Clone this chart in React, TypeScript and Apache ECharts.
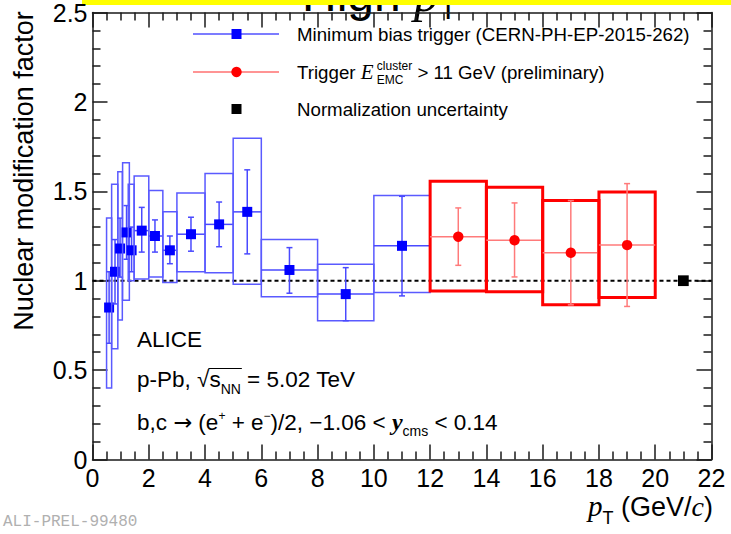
import React, { useEffect, useRef } from "react";
import * as echarts from "echarts";

// ---------------- data ----------------
// Minimum bias trigger (CERN-PH-EP-2015-262)
const mbPt = [0.59, 0.8, 0.98, 1.21, 1.39, 1.75, 2.22, 2.75, 3.5, 4.5, 5.5, 7, 9, 11];
const mbPtLow = [0.5, 0.68, 0.9, 1.07, 1.27, 1.48, 2, 2.5, 3, 4, 5, 6, 8, 10];
const mbPtHigh = [0.68, 0.9, 1.06, 1.31, 1.48, 2, 2.5, 3, 4, 5, 6, 8, 10, 12];
const mbValue = [0.85, 1.05, 1.18, 1.27, 1.17, 1.28, 1.25, 1.17, 1.26, 1.315, 1.385, 1.06, 0.925, 1.195];
const mbStatLow = [0.65, 0.87, 1.02, 1.12, 1.05, 1.16, 1.16, 1.095, 1.165, 1.19, 1.15, 0.93, 0.776, 0.915];
const mbStatHigh = [1.05, 1.23, 1.35, 1.42, 1.3, 1.41, 1.34, 1.25, 1.355, 1.44, 1.62, 1.185, 1.073, 1.472];
const mbSystLow = [0.4, 0.62, 0.78, 0.89, 1.0, 1.01, 1.02, 0.99, 1.05, 1.045, 0.98, 0.91, 0.776, 0.934];
const mbSystHigh = [1.35, 1.54, 1.61, 1.66, 1.54, 1.585, 1.505, 1.385, 1.49, 1.6, 1.797, 1.23, 1.092, 1.476];

// Trigger E_EMC^cluster > 11 GeV (preliminary)
const emcPt = [13, 15, 17, 19];
const emcPtLow = [12, 14, 16, 18];
const emcPtHigh = [14, 16, 18, 20];
const emcValue = [1.246, 1.226, 1.156, 1.199];
const emcStatLow = [1.086, 1.021, 0.865, 0.856];
const emcStatHigh = [1.407, 1.435, 1.448, 1.543];
const emcSystLow = [0.943, 0.938, 0.865, 0.906];
const emcSystHigh = [1.556, 1.522, 1.448, 1.496];

// Normalization uncertainty
const normPt = [21];
const normValue = [1];
const normUnc = [0.03];

// Reference line
const unityValue = 1;

// Axes
const xMin = 0, xMax = 22, xInterval = 2;
const yMin = 0, yMax = 2.5, yInterval = 0.5;

// ---------------- helpers ----------------
const SANS = "Liberation Sans";
const SERIF = "Liberation Serif";
const MONO = "Liberation Mono";

type Run = { t: string; fs: number; fam?: string; it?: boolean; bold?: boolean; dy?: number; stack?: boolean; color?: string };

let mctx: CanvasRenderingContext2D | null = null;
function textWidth(t: string, fs: number, fam: string, it?: boolean, bold?: boolean) {
  if (!mctx) mctx = document.createElement("canvas").getContext("2d");
  if (!mctx) return t.length * fs * 0.5;
  mctx.font = `${it ? "italic " : ""}${bold ? "bold " : ""}${fs}px "${fam}"`;
  return mctx.measureText(t).width;
}

function layoutRuns(runs: Run[], x0: number, baseline: number, anchor: "left" | "right" = "left", color = "#000") {
  let cx = 0;
  let prevStart = 0;
  const placed: { r: Run; x: number; w: number }[] = [];
  for (const r of runs) {
    const w = textWidth(r.t, r.fs, r.fam || SANS, r.it, r.bold);
    const start = r.stack ? prevStart : cx;
    placed.push({ r, x: start, w });
    const end = start + w;
    cx = r.stack ? Math.max(cx, end) : end;
    prevStart = start;
  }
  const off = anchor === "right" ? x0 - cx : x0;
  const els = placed.map((p) => ({
    type: "text",
    silent: true,
    x: off + p.x,
    y: baseline + (p.r.dy || 0) - 0.35 * p.r.fs,
    style: {
      text: p.r.t,
      fontSize: p.r.fs,
      fontFamily: p.r.fam || SANS,
      fontStyle: p.r.it ? "italic" : "normal",
      fontWeight: p.r.bold ? "bold" : "normal",
      fill: p.r.color || color,
      align: "left",
      verticalAlign: "middle",
    },
  }));
  const xs = placed.map((p) => off + p.x);
  const ws = placed.map((p) => p.w);
  return { els, xs, ws, total: cx };
}

function errorSeries(
  name: string,
  pt: number[], lo: number[], hi: number[], val: number[],
  sLo: number[], sHi: number[], yLo: number[], yHi: number[],
  o: { boxColor: string; boxWidth: number; barColor: string; marker: "square" | "circle"; markerColor: string; z: number }
) {
  const data = pt.map((p, i) => [p, val[i], lo[i], hi[i], sLo[i], sHi[i], yLo[i], yHi[i]]);
  return {
    type: "custom",
    name,
    data,
    z: o.z,
    encode: { x: 0, y: 1 },
    renderItem: (_params: any, api: any) => {
      const x = api.value(0), y = api.value(1);
      const xl = api.value(2), xh = api.value(3);
      const sl = api.value(4), sh = api.value(5);
      const yl = api.value(6), yh = api.value(7);
      const tl = api.coord([xl, yh]);
      const br = api.coord([xh, yl]);
      const c = api.coord([x, y]);
      const cl = api.coord([xl, y]);
      const ch = api.coord([xh, y]);
      const s1 = api.coord([x, sl]);
      const s2 = api.coord([x, sh]);
      const cap = 3;
      const ls = { stroke: o.barColor, lineWidth: 1.5 };
      const children: any[] = [
        { type: "rect", shape: { x: tl[0], y: tl[1], width: br[0] - tl[0], height: br[1] - tl[1] }, style: { fill: "none", stroke: o.boxColor, lineWidth: o.boxWidth } },
        { type: "line", shape: { x1: cl[0], y1: cl[1], x2: ch[0], y2: ch[1] }, style: ls },
        { type: "line", shape: { x1: s1[0], y1: s1[1], x2: s2[0], y2: s2[1] }, style: ls },
        { type: "line", shape: { x1: s1[0] - cap, y1: s1[1], x2: s1[0] + cap, y2: s1[1] }, style: ls },
        { type: "line", shape: { x1: s2[0] - cap, y1: s2[1], x2: s2[0] + cap, y2: s2[1] }, style: ls },
      ];
      if (o.marker === "square") {
        children.push({ type: "rect", shape: { x: c[0] - 5, y: c[1] - 5, width: 10, height: 10 }, style: { fill: o.markerColor } });
      } else {
        children.push({ type: "circle", shape: { cx: c[0], cy: c[1], r: 5.2 }, style: { fill: o.markerColor } });
      }
      return { type: "group", children };
    },
  };
}

const AXIS_COLOR = "#1a1a1a";

function makeXAxis(position: "bottom" | "top", labels: boolean) {
  return {
    type: "value",
    min: xMin,
    max: xMax,
    interval: xInterval,
    position,
    axisLine: { show: true, onZero: false, lineStyle: { color: AXIS_COLOR, width: 1.5 } },
    axisTick: { show: true, inside: true, length: 15, lineStyle: { color: AXIS_COLOR, width: 1.5 } },
    minorTick: { show: true, splitNumber: 4, length: 8, lineStyle: { color: AXIS_COLOR, width: 1.5 } },
    splitLine: { show: false },
    axisLabel: { show: labels, fontSize: 25, color: "#000", fontFamily: SANS, margin: 6 },
  };
}
function makeYAxis(position: "left" | "right", labels: boolean) {
  return {
    type: "value",
    min: yMin,
    max: yMax,
    interval: yInterval,
    position,
    axisLine: { show: true, onZero: false, lineStyle: { color: AXIS_COLOR, width: 1.5 } },
    axisTick: { show: true, inside: true, length: 15, lineStyle: { color: AXIS_COLOR, width: 1.5 } },
    minorTick: { show: true, splitNumber: 5, length: 8, lineStyle: { color: AXIS_COLOR, width: 1.5 } },
    splitLine: { show: false },
    axisLabel: { show: labels, fontSize: 25, color: "#000", fontFamily: SANS, margin: 5 },
  };
}

function buildGraphics() {
  const g: any[] = [];
  // header (cut-off title)
  const head = layoutRuns(
    [
      { t: "High ", fs: 48 },
      { t: "p", fs: 50, fam: SERIF, it: true },
      { t: "T", fs: 30, dy: 8 },
    ],
    302, 11
  );
  g.push(...head.els);
  g.push({ type: "rect", silent: true, shape: { x: 82, y: 0, width: 649, height: 5 }, style: { fill: "#ffff00" } });

  // y axis title
  g.push({
    type: "text", silent: true, x: 24, y: 171, rotation: Math.PI / 2,
    style: { text: "Nuclear modification factor", fontSize: 27, fontFamily: SANS, fill: "#000", align: "center", verticalAlign: "middle" },
  });

  // x axis title
  const xt = layoutRuns(
    [
      { t: "p", fs: 29, fam: SERIF, it: true },
      { t: "T", fs: 18, dy: 8 },
      { t: " (GeV/", fs: 27 },
      { t: "c", fs: 28, fam: SERIF, it: true },
      { t: ")", fs: 27 },
    ],
    713, 516, "right"
  );
  g.push(...xt.els);

  // ALI-PREL
  g.push({
    type: "text", silent: true, x: 3, y: 522,
    style: { text: "ALI-PREL-99480", fontSize: 16, fontFamily: MONO, fill: "#b0b0b0", align: "left", verticalAlign: "middle" },
  });

  // legend
  const lfs = 18.7;
  g.push({ type: "line", silent: true, shape: { x1: 193, y1: 34, x2: 279, y2: 34 }, style: { stroke: "#5050ff", lineWidth: 1.5 } });
  g.push({ type: "rect", silent: true, shape: { x: 231.5, y: 29, width: 10, height: 10 }, style: { fill: "#0000ff" } });
  g.push(...layoutRuns([{ t: "Minimum bias trigger (CERN-PH-EP-2015-262)", fs: lfs }], 297, 41).els);

  g.push({ type: "line", silent: true, shape: { x1: 193, y1: 72, x2: 279, y2: 72 }, style: { stroke: "#ff7070", lineWidth: 1.5 } });
  g.push({ type: "circle", silent: true, shape: { cx: 236.5, cy: 72, r: 5.2 }, style: { fill: "#ff0000" } });
  g.push(
    ...layoutRuns(
      [
        { t: "Trigger ", fs: lfs },
        { t: "E", fs: 21, fam: SERIF, it: true },
        { t: " cluster", fs: 12, dy: -9 },
        { t: " EMC", fs: 12, dy: 5, stack: true },
        { t: " > 11 GeV (preliminary)", fs: lfs },
      ],
      297, 79
    ).els
  );

  g.push({ type: "rect", silent: true, shape: { x: 231.5, y: 104, width: 10, height: 10 }, style: { fill: "#000" } });
  g.push(...layoutRuns([{ t: "Normalization uncertainty", fs: lfs }], 297, 116).els);

  // annotations
  const afs = 22.5;
  g.push(...layoutRuns([{ t: "ALICE", fs: afs }], 137, 347).els);
  const pp = layoutRuns(
    [
      { t: "p-Pb, ", fs: afs },
      { t: "\u221A", fs: afs },
      { t: "s", fs: afs },
      { t: "NN", fs: 14, dy: 6 },
      { t: " = 5.02 TeV", fs: afs },
    ],
    137, 387.5
  );
  g.push(...pp.els);
  g.push({
    type: "line", silent: true,
    shape: { x1: pp.xs[2] - 1, y1: 387.5 - 19, x2: pp.xs[3] + pp.ws[3] + 1, y2: 387.5 - 19 },
    style: { stroke: "#000", lineWidth: 1 },
  });
  g.push(
    ...layoutRuns(
      [
        { t: "b,c ", fs: afs },
        { t: "\u2192", fs: afs, fam: "DejaVu Sans" },
        { t: " (e", fs: afs },
        { t: "+", fs: 12, dy: -10 },
        { t: " + e", fs: afs },
        { t: "\u2212", fs: 12, dy: -10 },
        { t: ")/2, \u22121.06 < ", fs: afs },
        { t: "y", fs: 24, fam: SERIF, it: true, bold: true },
        { t: "cms", fs: 14, dy: 6 },
        { t: " < 0.14", fs: afs },
      ],
      137, 430
    ).els
  );
  return g;
}

export default function App() {
  const ref = useRef<HTMLDivElement>(null);
  useEffect(() => {
    document.body.style.margin = "0";
    if (!ref.current) return;
    const chart = echarts.init(ref.current, undefined, { renderer: "svg" });
    const option: any = {
      animation: false,
      backgroundColor: "#ffffff",
      grid: { left: 92.5, right: 731 - 711.5, top: 10, bottom: 534 - 459.5, containLabel: false },
      xAxis: [makeXAxis("bottom", true), makeXAxis("top", false)],
      yAxis: [makeYAxis("left", true), makeYAxis("right", false)],
      series: [
        {
          type: "custom",
          name: "unity",
          data: [[xMin, xMax, unityValue]],
          encode: { x: 0, y: 2 },
          z: 1,
          silent: true,
          renderItem: (_p: any, api: any) => {
            const a = api.coord([api.value(0), api.value(2)]);
            const b = api.coord([api.value(1), api.value(2)]);
            return { type: "line", shape: { x1: a[0], y1: a[1], x2: b[0], y2: b[1] }, style: { stroke: "#000", lineWidth: 2, lineDash: [4, 3] } };
          },
        },
        errorSeries("Minimum bias trigger (CERN-PH-EP-2015-262)", mbPt, mbPtLow, mbPtHigh, mbValue, mbStatLow, mbStatHigh, mbSystLow, mbSystHigh, {
          boxColor: "#5a5aff", boxWidth: 1.5, barColor: "#4a4aff", marker: "square", markerColor: "#0000ff", z: 3,
        }),
        errorSeries("Trigger E_EMC^cluster > 11 GeV (preliminary)", emcPt, emcPtLow, emcPtHigh, emcValue, emcStatLow, emcStatHigh, emcSystLow, emcSystHigh, {
          boxColor: "#ff0000", boxWidth: 3, barColor: "#ff7a7a", marker: "circle", markerColor: "#ff0000", z: 4,
        }),
        {
          type: "custom",
          name: "Normalization uncertainty",
          data: normPt.map((p, i) => [p, normValue[i], normUnc[i]]),
          encode: { x: 0, y: 1 },
          z: 5,
          renderItem: (_p: any, api: any) => {
            const top = api.coord([api.value(0), api.value(1) + api.value(2)]);
            const bot = api.coord([api.value(0), api.value(1) - api.value(2)]);
            const h = bot[1] - top[1];
            return { type: "rect", shape: { x: top[0] - h / 2, y: top[1], width: h, height: h }, style: { fill: "#000" } };
          },
        },
      ],
      graphic: buildGraphics(),
    };
    chart.setOption(option);
    return () => chart.dispose();
  }, []);
  return <div ref={ref} style={{ position: "absolute", left: 0, top: 0, width: 731, height: 534 }} />;
}
